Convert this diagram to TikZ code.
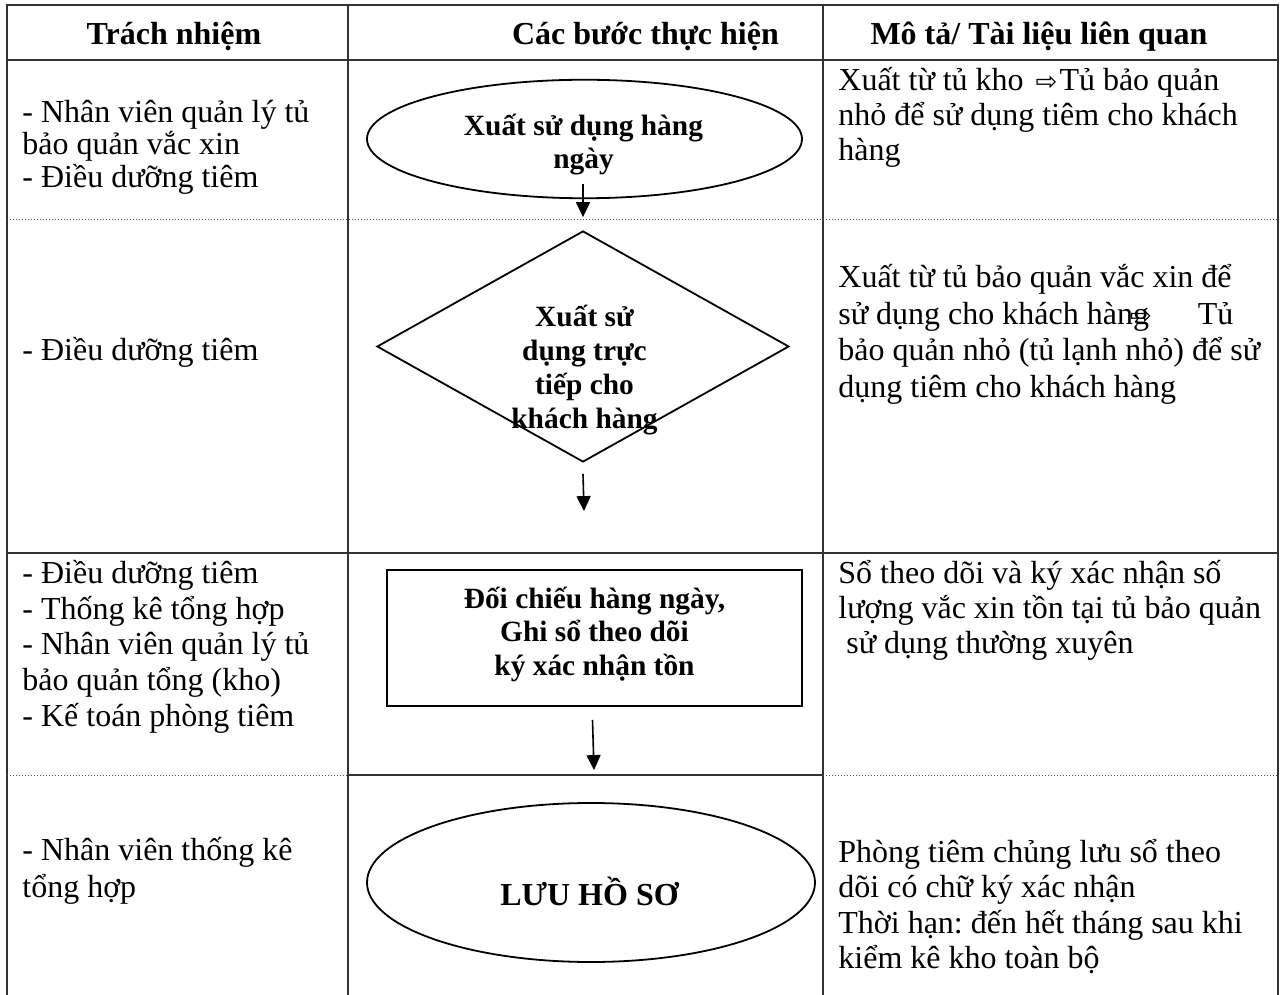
\documentclass[tikz,border=0pt]{standalone}
\usepackage{fontspec}
\setmainfont{Liberation Serif}
\newfontfamily\symfont{DejaVu Sans}
\usetikzlibrary{shapes.geometric,arrows.meta}
\frenchspacing

% strut that fixes the height of a first line, so a node's top lies 1em above its first baseline
\newcommand\topstrut{\rule{0pt}{1em}}
% font size with a fixed line pitch
\newcommand\txt[2]{\fontsize{#1}{#2}\selectfont\lineskiplimit=-50pt\lineskip=0pt\relax}
% hollow right arrow used inside the description texts
\newcommand\rarr{{\symfont\fontsize{13}{13}\selectfont ⇨}}

\begin{document}
\begin{tikzpicture}[x=0.5pt,y=-0.5pt,
  grid/.style={draw=black!80, line width=0.8pt},
  dotline/.style={draw=black!70, line width=0.5pt, dash pattern=on 0.5pt off 1pt},
  shapeline/.style={draw=black, line width=0.9pt, inner sep=0pt},
  flow/.style={draw=black, line width=0.8pt, -{Triangle[length=7.5pt,width=7pt]}},
  cell/.style={anchor=north west, inner sep=0pt, align=left},
  midtext/.style={anchor=north, inner sep=0pt, align=center},
  head/.style={anchor=base, inner sep=0pt, font=\bfseries\fontsize{16}{18}\selectfont}]

\useasboundingbox (0,0) rectangle (1282,995);

% table frame and column rules
\draw[grid] (7,995) -- (7,5) -- (1278,5) -- (1278,995);
\draw[grid] (348,5) -- (348,995);
\draw[grid] (823,5) -- (823,995);
\draw[grid] (7,60) -- (1278,60);
\draw[grid] (7,553) -- (1278,553);
\draw[grid] (348,775) -- (823,775);
% dotted row separators
\draw[dotline] (7,220) -- (1278,220);
\draw[dotline] (7,775) -- (348,775);
\draw[dotline] (823,775) -- (1278,775);

% header row
\node[head] (h1) at (174,45) {Trách nhiệm};
\node[head] (h2) at (645.5,45) {Các bước thực hiện};
\node[head] (h3) at (1039,45) {Mô tả/ Tài liệu liên quan};

% flow shapes
\node[ellipse, shapeline, minimum width=217.5pt, minimum height=59.25pt] (e1) at (584.5,139) {};
\node[diamond, shapeline, aspect=1.78, minimum width=206pt, minimum height=115.5pt] (dia) at (583,346.5) {};
\node[rectangle, shapeline, minimum width=207.5pt, minimum height=68pt] (box) at (594.5,638) {};
\node[ellipse, shapeline, minimum width=224pt, minimum height=79.5pt] (e2) at (591,882.5) {};

% flow labels
\node[midtext, font={\bfseries\txt{14.7}{16.5}}] (t1) at (583.5,105.6) {\topstrut Xuất sử dụng hàng\\ngày};
\node[midtext, font={\bfseries\txt{14.7}{17}}] (t2) at (584.5,296.6) {\topstrut Xuất sử\\dụng trực\\tiếp cho\\khách hàng};
\node[midtext, font={\bfseries\txt{14.7}{16.75}}] (t3) at (594.5,578.6) {\topstrut Đối chiếu hàng ngày,\\Ghi sổ theo dõi\\ký xác nhận tồn};
\node[anchor=base, inner sep=0pt, font=\bfseries\fontsize{16}{18}\selectfont] (t4) at (589.5,905) {LƯU HỒ SƠ};

% connectors
\draw[flow] ([xshift=-0.75pt,yshift=7.5pt]e1.south) -- ([yshift=6.5pt]dia.north);
\draw[flow] ([yshift=-5.5pt]dia.south) -- ([xshift=-5.25pt,yshift=29pt]box.north);
\draw[flow] ([xshift=-1pt,yshift=-6.5pt]box.south) -- ([xshift=1.5pt,yshift=16pt]e2.north);

% responsibility column
\node[cell, font=\txt{16}{16.25}] (r1) at (22,90) {\topstrut - Nhân viên quản lý tủ\\bảo quản vắc xin\\- Điều dưỡng tiêm};
\node[cell, anchor=base west, font=\txt{16}{18}] (r2) at (22,360) {- Điều dưỡng tiêm};
\node[cell, font=\txt{16}{17.85}] (r3) at (22,551) {\topstrut - Điều dưỡng tiêm\\- Thống kê tổng hợp\\- Nhân viên quản lý tủ\\bảo quản tổng (kho)\\- Kế toán phòng tiêm};
\node[cell, font=\txt{16}{18.35}] (r4) at (22,828) {\topstrut - Nhân viên thống kê\\tổng hợp};

% description column
\node[cell, font=\txt{16}{17.5}] (d1) at (838,58) {\topstrut Xuất từ tủ kho \hspace{2pt}\rarr\hspace{1pt}Tủ bảo quản\\nhỏ để sử dụng tiêm cho khách\\hàng};
\node[cell, font=\txt{16}{18.35}] (d2) at (838,255) {\topstrut Xuất từ tủ bảo quản vắc xin để\\sử dụng cho khách hàn\rlap{g}\kern-1.5pt\rarr\hspace{23pt}Tủ\\bảo quản nhỏ (tủ lạnh nhỏ) để sử\\dụng tiêm cho khách hàng};
\node[cell, font=\txt{16}{17.5}] (d3) at (838,551) {\topstrut Sổ theo dõi và ký xác nhận số\\lượng vắc xin tồn tại tủ bảo quản\\\hspace*{4pt}sử dụng thường xuyên};
\node[cell, font=\txt{16}{17.75}] (d4) at (838,830) {\topstrut Phòng tiêm chủng lưu sổ theo\\dõi có chữ ký xác nhận\\Thời hạn: đến hết tháng sau khi\\kiểm kê kho toàn bộ};

\end{tikzpicture}
\end{document}
